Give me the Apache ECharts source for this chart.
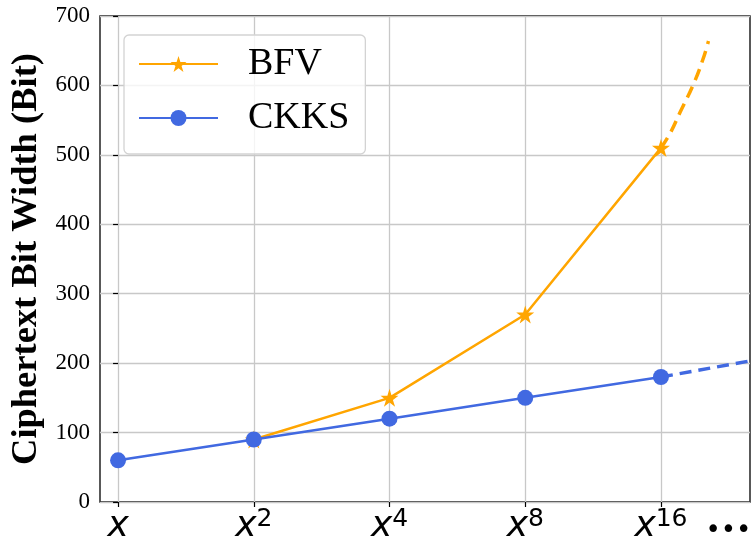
<!DOCTYPE html>
<html><head><meta charset="utf-8">
<script src="https://cdn.jsdelivr.net/npm/echarts@6/dist/echarts.min.js"></script>
<style>html,body{margin:0;padding:0;background:#fff}#c{width:751px;height:540px}</style>
</head><body><div id="c"></div>
<script>
// x positions: 0=x, 1=x^2, 2=x^4, 3=x^8, 4=x^16
var xTickPositions = [0, 1, 2, 3, 4];
var xTickExponents = ['', '2', '4', '8', '16'];
var ellipsisPos = 4.497;
var bfvX = [1, 2, 3, 4];
var bfvY = [90, 150, 270, 510];
var bfvExtX = [4, 4.07, 4.14, 4.24, 4.31, 4.35];
var bfvExtY = [510, 532, 561, 602, 638, 664];
var ckksX = [0, 1, 2, 3, 4];
var ckksY = [60, 90, 120, 150, 180];
var ckksExtX = [4, 4.65];
var ckksExtY = [180, 203];
var yTicks = [0, 100, 200, 300, 400, 500, 600, 700];

function zip(a, b) { return a.map(function (v, i) { return [v, b[i]]; }); }
var ORANGE = '#FFA500', BLUE = '#4169E1';
var STAR = 'path://M50,0 L61.2,34.5 L97.6,34.5 L68.2,55.9 L79.4,90.5 L50,69.1 L20.6,90.5 L31.8,55.9 L2.4,34.5 L38.8,34.5 Z';

var chart = echarts.init(document.getElementById('c'), null, {renderer: 'canvas'});
chart.setOption({
  animation: false,
  grid: {left: 100, right: 1, top: 16, bottom: 38, show: true, borderColor: '#000', borderWidth: 1.3,
    containLabel: false, outerBoundsMode: 'none'},
  legend: {
    orient: 'vertical', left: 124, top: 35,
    data: ['BFV', 'CKKS'],
    itemWidth: 79, itemHeight: 20, itemGap: 16,
    padding: [10, 16, 17, 14],
    backgroundColor: 'rgba(255,255,255,0.8)',
    borderColor: '#d3d3d3', borderWidth: 1.3, borderRadius: 5,
    textStyle: {fontFamily: 'Liberation Serif', fontSize: 38, color: '#000', lineHeight: 38, padding: [0, 0, 0, 25]}
  },
  xAxis: {
    type: 'value', min: -0.133, max: 4.656,
    axisLine: {show: false},
    axisTick: {show: true, customValues: xTickPositions, length: 5, lineStyle: {color: '#000', width: 1.2}},
    splitLine: {show: true, lineStyle: {color: '#c8c8c8', width: 1.3}},
    axisLabel: {
      customValues: xTickPositions.concat([ellipsisPos]),
      margin: 3,
      formatter: function (v) {
        for (var i = 0; i < xTickPositions.length; i++) {
          if (Math.abs(v - xTickPositions[i]) < 1e-6) {
            return xTickExponents[i] ? '{x|x}{s|' + xTickExponents[i] + '}' : '{x|x}';
          }
        }
        return '{d|•••}';
      },
      rich: {
        x: {fontFamily: 'DejaVu Sans', fontStyle: 'italic', fontSize: 36, color: '#000', lineHeight: 40, verticalAlign: 'bottom'},
        s: {fontFamily: 'DejaVu Sans', fontSize: 25, color: '#000', lineHeight: 40, verticalAlign: 'bottom', padding: [0, 0, 13, 0]},
        d: {fontFamily: 'DejaVu Sans', fontSize: 26, color: '#000', lineHeight: 40, verticalAlign: 'bottom', padding: [0, 0, 1, 0]}
      }
    }
  },
  yAxis: {
    type: 'value', min: 0, max: 700, interval: 100,
    name: 'Ciphertext Bit Width (Bit)', nameLocation: 'middle', nameGap: 51,
    nameTextStyle: {fontFamily: 'Liberation Serif', fontWeight: 'bold', fontSize: 36.5, color: '#000'},
    axisLine: {show: false},
    axisTick: {show: true, length: 5, lineStyle: {color: '#000', width: 1.2}},
    splitLine: {show: true, lineStyle: {color: '#c8c8c8', width: 1.3}},
    axisLabel: {fontFamily: 'Liberation Serif', fontSize: 23, color: '#000', margin: 10,
      formatter: function (v) { return yTicks.indexOf(v) >= 0 ? String(v) : ''; }}
  },
  series: [
    {name: 'BFV', type: 'line', data: zip(bfvX, bfvY), symbol: STAR, symbolSize: 18,
      itemStyle: {color: ORANGE}, lineStyle: {color: ORANGE, width: 2.5}, z: 3},
    {name: 'BFV-ext', type: 'line', data: zip(bfvExtX, bfvExtY), smooth: true, showSymbol: false, symbol: 'none',
      itemStyle: {color: ORANGE}, lineStyle: {color: ORANGE, width: 3.5, type: [12, 7]}, z: 2},
    {name: 'CKKS', type: 'line', data: zip(ckksX, ckksY), symbol: 'circle', symbolSize: 16,
      itemStyle: {color: BLUE}, lineStyle: {color: BLUE, width: 2.5}, z: 4},
    {name: 'CKKS-ext', type: 'line', data: zip(ckksExtX, ckksExtY), showSymbol: false, symbol: 'none',
      itemStyle: {color: BLUE}, lineStyle: {color: BLUE, width: 3.5, type: [12, 7]}, z: 2}
  ]
});
</script></body></html>
